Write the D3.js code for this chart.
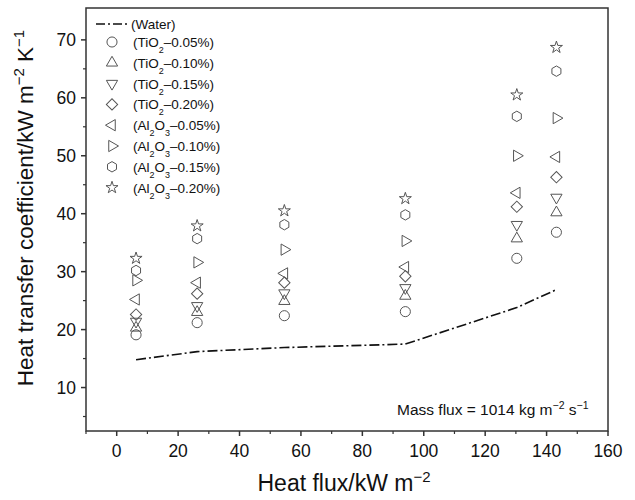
<!DOCTYPE html>
<html lang="en">
<head>
  <meta charset="UTF-8">
  <title>Heat transfer coefficient vs heat flux</title>
  <script src="https://d3js.org/d3.v7.min.js"></script>
  <style>
    body {
      margin: 0;
      background: #fff;
      font-family: 'Liberation Sans', Arial, sans-serif;
    }
    svg text { fill: #111; }
  </style>
</head>
<body>
  <svg id="chart" width="635" height="500"></svg>
  <script>
    // data
    const heatFlux = [6.3, 26.2, 54.6, 94, 130.3, 143.2];
    const water = [14.8, 16.2, 16.9, 17.5, 23.8, 26.9];
    const tio2_005 = [19.1, 21.2, 22.4, 23.1, 32.3, 36.8];
    const tio2_010 = [20.3, 23.0, 24.9, 25.8, 35.7, 40.2];
    const tio2_015 = [21.4, 24.1, 26.3, 27.2, 38.1, 42.8];
    const tio2_020 = [22.6, 26.2, 28.1, 29.2, 41.2, 46.3];
    const al2o3_005 = [25.2, 28.1, 29.7, 30.8, 43.6, 49.8];
    const al2o3_010 = [28.5, 31.6, 33.8, 35.3, 50.0, 56.5];
    const al2o3_015 = [30.2, 35.7, 38.1, 39.8, 56.8, 64.6];
    const al2o3_020 = [32.3, 37.9, 40.5, 42.6, 60.5, 68.7];

    const xTicks = [0, 20, 40, 60, 80, 100, 120, 140, 160];
    const yTicks = [10, 20, 30, 40, 50, 60, 70];

    const svg = d3.select("#chart");
    const mLeft = 86, mRight = 608, mTop = 8, mBottom = 431;

    const x = d3.scaleLinear().domain([-10, 160]).range([mLeft, mRight]);
    const y = d3.scaleLinear().domain([2.5, 75.5]).range([mBottom, mTop]);

    const axisColor = "#333";

    // hexagon, pointy top
    const hexagon = {
      draw(ctx, size) {
        const r = Math.sqrt(size / (1.5 * Math.sqrt(3)));
        for (let i = 0; i < 6; i++) {
          const a = Math.PI / 2 + i * Math.PI / 3;
          const px = r * Math.cos(a), py = -r * Math.sin(a);
          if (i === 0) ctx.moveTo(px, py); else ctx.lineTo(px, py);
        }
        ctx.closePath();
      }
    };

    // legend entries + marker definitions
    const series = [
      { vals: tio2_005, type: d3.symbolCircle, size: 80, rot: 0, chem: "TiO", sub: ["2"], pct: "0.05%" },
      { vals: tio2_010, type: d3.symbolTriangle, size: 55, rot: 0, chem: "TiO", sub: ["2"], pct: "0.10%" },
      { vals: tio2_015, type: d3.symbolTriangle, size: 55, rot: 180, chem: "TiO", sub: ["2"], pct: "0.15%" },
      { vals: tio2_020, type: d3.symbolSquare, size: 64, rot: 45, chem: "TiO", sub: ["2"], pct: "0.20%" },
      { vals: al2o3_005, type: d3.symbolTriangle, size: 55, rot: -90, chem: "Al", sub: ["2", "3"], pct: "0.05%" },
      { vals: al2o3_010, type: d3.symbolTriangle, size: 55, rot: 90, chem: "Al", sub: ["2", "3"], pct: "0.10%" },
      { vals: al2o3_015, type: hexagon, size: 70, rot: 0, chem: "Al", sub: ["2", "3"], pct: "0.15%" },
      { vals: al2o3_020, type: d3.symbolStar, size: 45, rot: 0, chem: "Al", sub: ["2", "3"], pct: "0.20%" }
    ];

    // frame
    svg.append("rect")
      .attr("x", mLeft).attr("y", mTop)
      .attr("width", mRight - mLeft).attr("height", mBottom - mTop)
      .attr("fill", "none").attr("stroke", axisColor).attr("stroke-width", 1.5);

    // x ticks
    const xMinor = d3.range(-10, 161, 10).filter(v => v % 20 !== 0);
    svg.append("g").selectAll("line").data(xTicks).join("line")
      .attr("x1", d => x(d)).attr("x2", d => x(d))
      .attr("y1", mBottom).attr("y2", mBottom + 5)
      .attr("stroke", axisColor).attr("stroke-width", 1.5);
    svg.append("g").selectAll("line").data(xMinor).join("line")
      .attr("x1", d => x(d)).attr("x2", d => x(d))
      .attr("y1", mBottom).attr("y2", mBottom + 3)
      .attr("stroke", axisColor).attr("stroke-width", 1.2);
    svg.append("g").selectAll("text").data(xTicks).join("text")
      .attr("x", d => x(d)).attr("y", mBottom + 26)
      .attr("text-anchor", "middle")
      .attr("font-size", 17.5)
      .text(d => d);

    // y ticks
    const yMinor = d3.range(5, 70, 10);
    svg.append("g").selectAll("line").data(yTicks).join("line")
      .attr("x1", mLeft - 5).attr("x2", mLeft)
      .attr("y1", d => y(d)).attr("y2", d => y(d))
      .attr("stroke", axisColor).attr("stroke-width", 1.5);
    svg.append("g").selectAll("line").data(yMinor).join("line")
      .attr("x1", mLeft - 3).attr("x2", mLeft)
      .attr("y1", d => y(d)).attr("y2", d => y(d))
      .attr("stroke", axisColor).attr("stroke-width", 1.2);
    svg.append("g").selectAll("text").data(yTicks).join("text")
      .attr("x", mLeft - 10).attr("y", d => y(d) + 6)
      .attr("text-anchor", "end")
      .attr("font-size", 17.5)
      .text(d => d);

    // axis titles
    const xt = svg.append("text")
      .attr("x", 344).attr("y", 491)
      .attr("text-anchor", "middle")
      .attr("font-size", 23);
    xt.append("tspan").text("Heat flux/kW m");
    xt.append("tspan").attr("dy", -9).attr("font-size", 15).text("\u22122");

    const yt = svg.append("text")
      .attr("transform", "translate(33,208) rotate(-90)")
      .attr("text-anchor", "middle")
      .attr("font-size", 22.5);
    yt.append("tspan").text("Heat transfer coefficient/kW m");
    yt.append("tspan").attr("dy", -9).attr("font-size", 15).text("\u22122");
    yt.append("tspan").attr("dy", 9).text(" K");
    yt.append("tspan").attr("dy", -9).attr("font-size", 15).text("\u22121");

    // water line
    const line = d3.line().x((d, i) => x(heatFlux[i])).y(d => y(d));
    svg.append("path")
      .datum(water)
      .attr("d", line)
      .attr("fill", "none")
      .attr("stroke", "#111")
      .attr("stroke-width", 1.6)
      .attr("stroke-dasharray", "10,3,2,3");

    // markers
    series.forEach(s => {
      const sym = d3.symbol().type(s.type).size(s.size);
      svg.append("g").selectAll("path").data(s.vals).join("path")
        .attr("d", sym)
        .attr("transform", (d, i) => `translate(${x(heatFlux[i])},${y(d)}) rotate(${s.rot})`)
        .attr("fill", "none")
        .attr("stroke", "#555")
        .attr("stroke-width", 1);
    });

    // legend
    const lg = svg.append("g");
    lg.append("line")
      .attr("x1", 96).attr("x2", 128).attr("y1", 24).attr("y2", 24)
      .attr("stroke", "#111").attr("stroke-width", 1.6)
      .attr("stroke-dasharray", "9,3,2,3");
    lg.append("text").attr("x", 131).attr("y", 29)
      .attr("font-size", 13.5).text("(Water)");

    series.forEach((s, i) => {
      const cy = 42 + i * 20.8;
      lg.append("path")
        .attr("d", d3.symbol().type(s.type).size(s.size))
        .attr("transform", `translate(112,${cy}) rotate(${s.rot})`)
        .attr("fill", "none").attr("stroke", "#555").attr("stroke-width", 1);
      const t = lg.append("text").attr("x", 133).attr("y", cy + 5).attr("font-size", 13.5);
      t.append("tspan").text("(" + s.chem);
      t.append("tspan").attr("dy", 6).attr("font-size", 9).text(s.sub[0]);
      if (s.sub.length > 1) {
        t.append("tspan").attr("dy", -6).text("O");
        t.append("tspan").attr("dy", 6).attr("font-size", 9).text(s.sub[1]);
      }
      t.append("tspan").attr("dy", -6).text("\u2013" + s.pct + ")");
    });

    // annotation
    const ann = svg.append("text")
      .attr("x", 397).attr("y", 415)
      .attr("font-size", 15.5);
    ann.append("tspan").text("Mass flux = 1014 kg m");
    ann.append("tspan").attr("dy", -6).attr("font-size", 10.5).text("\u22122");
    ann.append("tspan").attr("dy", 6).text(" s");
    ann.append("tspan").attr("dy", -6).attr("font-size", 10.5).text("\u22121");
  </script>
</body>
</html>
